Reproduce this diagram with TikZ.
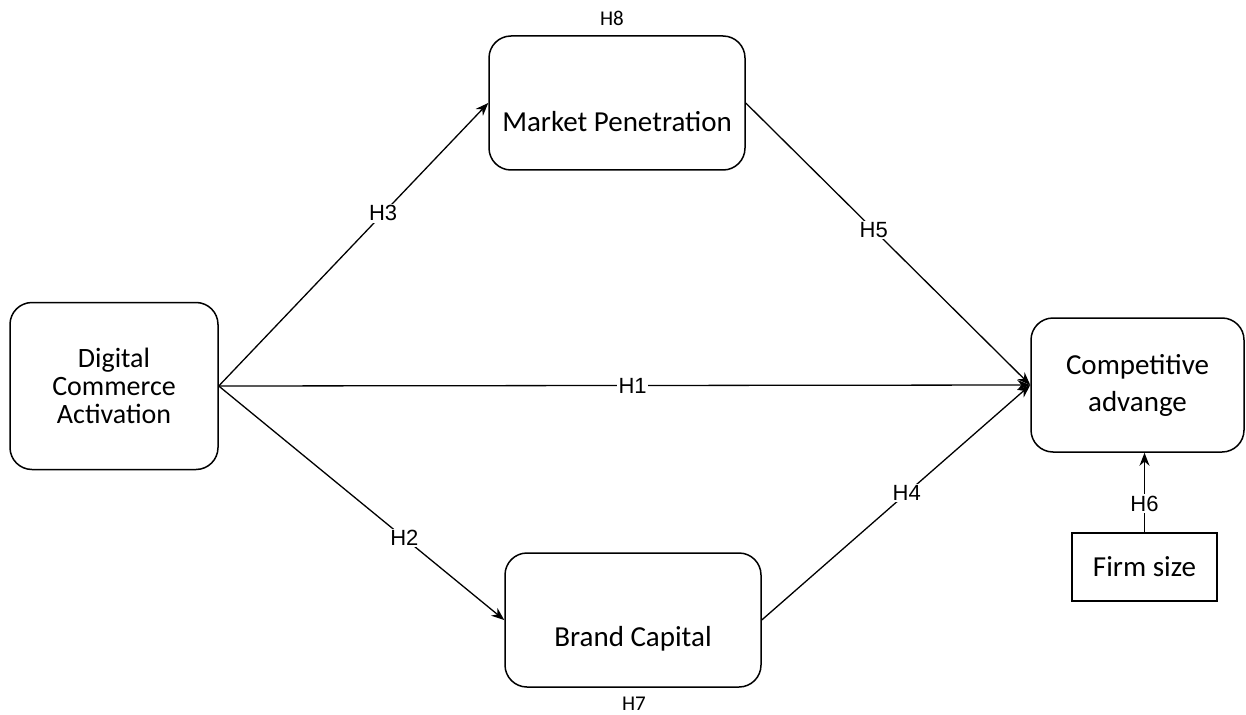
\documentclass[tikz,border=0pt]{standalone}
\usepackage{fontspec}
\setmainfont{Carlito}
\newfontfamily\hfont{Liberation Sans}
\usetikzlibrary{arrows.meta}

\begin{document}
\begin{tikzpicture}[x=1pt, y=-1pt,
    construct/.style={draw, line width=1.5pt, rounded corners=22pt, align=center,
      font=\fontsize{29}{26}\selectfont},
    plainbox/.style={draw, line width=1.5pt, font=\fontsize{29}{26}\selectfont},
    hyp/.style={fill=white, inner sep=1.5pt, font=\hfont\fontsize{22}{24}\selectfont},
    hypc/.style={inner sep=1pt, font=\fontsize{21}{23}\selectfont},
    link/.style={line width=1.3pt, -{Stealth[length=13pt,width=10pt]}}]
  \useasboundingbox (0,0) rectangle (1246,714);

  % Constructs
  \node[construct, minimum width=208pt, minimum height=167pt,
    font=\fontsize{28}{28}\selectfont] (dca) at (114,386)
    {Digital\\Commerce\\Activation};
  \node[construct, minimum width=256pt, minimum height=134pt,
    label={[yshift=-19pt, font=\fontsize{29}{26}\selectfont]center:Market Penetration}] (mp) at (617,103) {};
  \node[construct, minimum width=256pt, minimum height=134pt,
    label={[yshift=-19pt, font=\fontsize{29}{26}\selectfont]center:Brand Capital}] (bc) at (633,620) {};
  \node[construct, minimum width=213pt, minimum height=134pt,
    font=\fontsize{29}{37}\selectfont] (ca) at (1137.5,385) {Competitive\\advange};
  \node[plainbox, minimum width=145pt, minimum height=68pt] (fs) at (1144.5,567) {Firm size};

  % Hypotheses above and below
  \node[hypc] (h8) at (612,18) {H8};
  \node[hypc] (h7) at (634,704) {H7};

  % Paths
  \draw[link] (dca.east) -- node[hyp, pos=0.61] (h3) {H3} (mp.west);
  \draw[link] (dca.east) -- node[hyp, pos=0.65] (h2) {H2} (bc.west);
  \draw[link] (dca.east) -- node[hyp, pos=0.51] (h1) {H1} (ca.west);
  \draw[link] (mp.east) -- node[hyp, pos=0.45] (h5) {H5} (ca.west);
  \draw[link] (bc.east) -- node[hyp, pos=0.54] (h4) {H4} (ca.west);
  \draw[link] (fs.north) -- node[hyp, pos=0.36] (h6) {H6} (fs.north |- ca.south);
\end{tikzpicture}
\end{document}
